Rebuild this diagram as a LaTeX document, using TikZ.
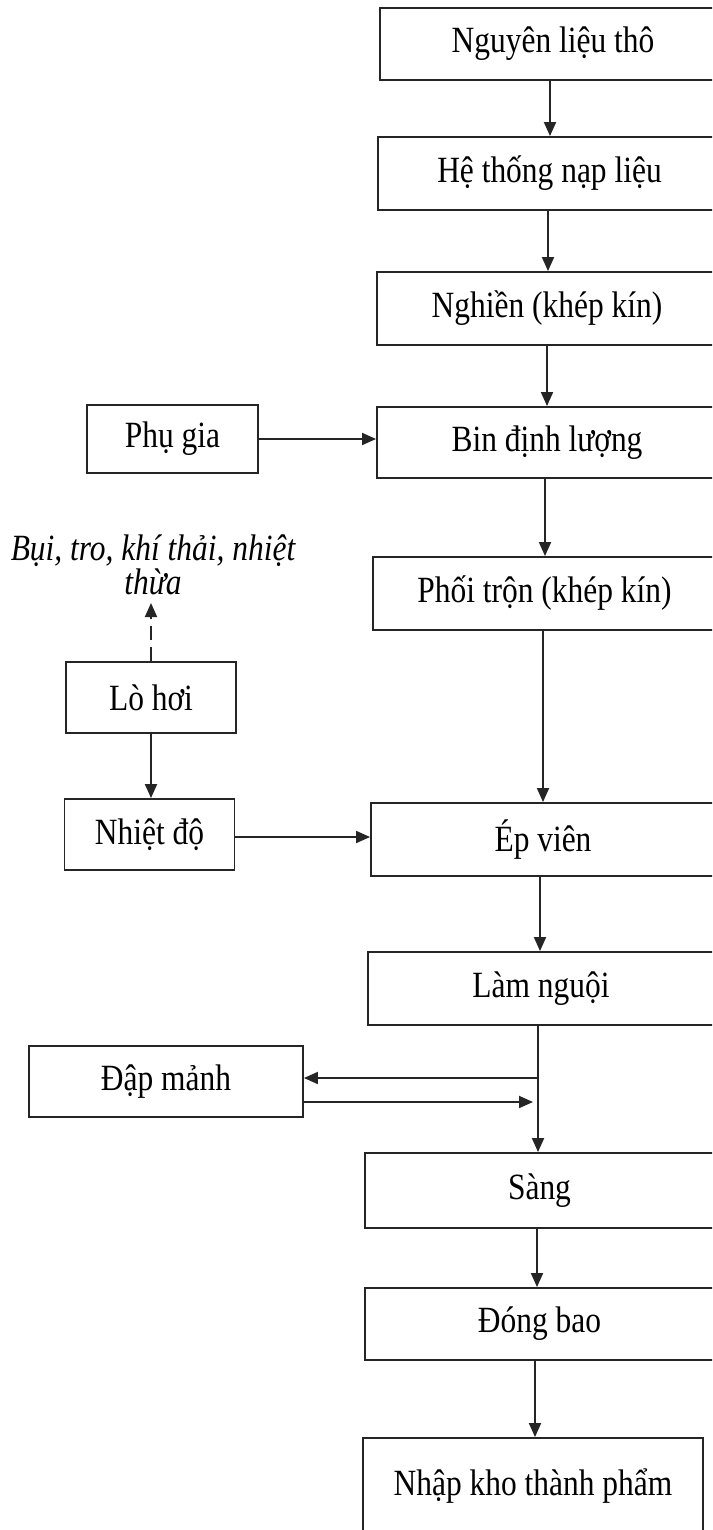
\documentclass[tikz,border=0pt]{standalone}
\usepackage{fontspec}
\setmainfont{Liberation Serif}[FakeStretch=0.85]
\usetikzlibrary{arrows.meta}
\definecolor{ink}{HTML}{252525}
\tikzset{
  box/.style={draw=ink, line width=1.9pt, rectangle, inner sep=0pt, align=center,
    font=\fontsize{37}{40}\selectfont, text=black},
  arr/.style={draw=ink, line width=1.9pt, -{Triangle[length=14pt,width=12pt]}},
  lbl/.style={align=center, font=\fontsize{37}{34}\selectfont\itshape, text=black, inner sep=0pt}
}
\begin{document}
\begin{tikzpicture}[x=1pt,y=-1pt]
\useasboundingbox (0,0) rectangle (712,1530);
\fill[white] (0,0) rectangle (712,1530);
\clip (0,0) rectangle (712,1530);
% main column
\node[box, minimum width=346pt, minimum height=72pt] (n1) at (553,44) {Nguyên liệu thô};
\node[box, minimum width=343pt, minimum height=73pt] (n2) at (549.5,173.5) {Hệ thống nạp liệu};
\node[box, minimum width=340pt, minimum height=73pt] (n3) at (547,308.5) {Nghiền (khép kín)};
\node[box, minimum width=340pt, minimum height=71pt] (n4) at (547,442.5) {Bin định lượng};
\node[box, minimum width=343pt, minimum height=73pt] (n5) at (544.5,593.5) {Phối trộn (khép kín)};
\node[box, minimum width=344pt, minimum height=73pt] (n6) at (543,839.5) {Ép viên};
\node[box, minimum width=346pt, minimum height=73pt] (n7) at (541,988.5) {Làm nguội};
\node[box, minimum width=349pt, minimum height=75pt] (n8) at (539.5,1190.5) {Sàng};
\node[box, minimum width=349pt, minimum height=72pt] (n9) at (539.5,1324) {Đóng bao};
\node[box, minimum width=340pt, minimum height=96pt] (n10) at (533,1486) {Nhập kho thành phẩm};
% side boxes
\node[box, minimum width=171pt, minimum height=68pt] (pg) at (172.5,439) {Phụ gia};
\node[box, minimum width=170pt, minimum height=71pt] (lh) at (151,697.5) {Lò hơi};
\node[box, minimum width=170pt, minimum height=71pt] (nd) at (149.5,834.5) {Nhiệt độ};
\node[box, minimum width=274pt, minimum height=71pt] (dm) at (166,1081.5) {Đập mảnh};
\node[lbl] (waste) at (153,565) {Bụi, tro, khí thải, nhiệt\\thừa};
\coordinate (wtip) at (151,603);
% vertical connectors
\draw[arr] (550,0 |- n1.south) -- (550,0 |- n2.north);
\draw[arr] (548,0 |- n2.south) -- (548,0 |- n3.north);
\draw[arr] (547,0 |- n3.south) -- (547,0 |- n4.north);
\draw[arr] (545,0 |- n4.south) -- (545,0 |- n5.north);
\draw[arr] (543,0 |- n5.south) -- (543,0 |- n6.north);
\draw[arr] (540,0 |- n6.south) -- (540,0 |- n7.north);
\draw[arr] (538,0 |- n7.south) -- (538,0 |- n8.north);
\draw[arr] (537,0 |- n8.south) -- (537,0 |- n9.north);
\draw[arr] (535,0 |- n9.south) -- (535,0 |- n10.north);
% side connectors
\draw[arr] (pg.east) -- (pg.east -| n4.west);
\draw[arr] (lh.south) -- (lh.south |- nd.north);
\draw[arr] (nd.east |- 0,837) -- (n6.west |- 0,837);
\draw[arr, dash pattern=on 14pt off 7pt] (lh.north) -- (wtip);
\coordinate (split) at (538,1078);
\draw[arr] (split) -- (dm.east |- split);
\coordinate (merge) at (533,1102);
\draw[arr] (dm.east |- merge) -- (merge);
\end{tikzpicture}
\end{document}
